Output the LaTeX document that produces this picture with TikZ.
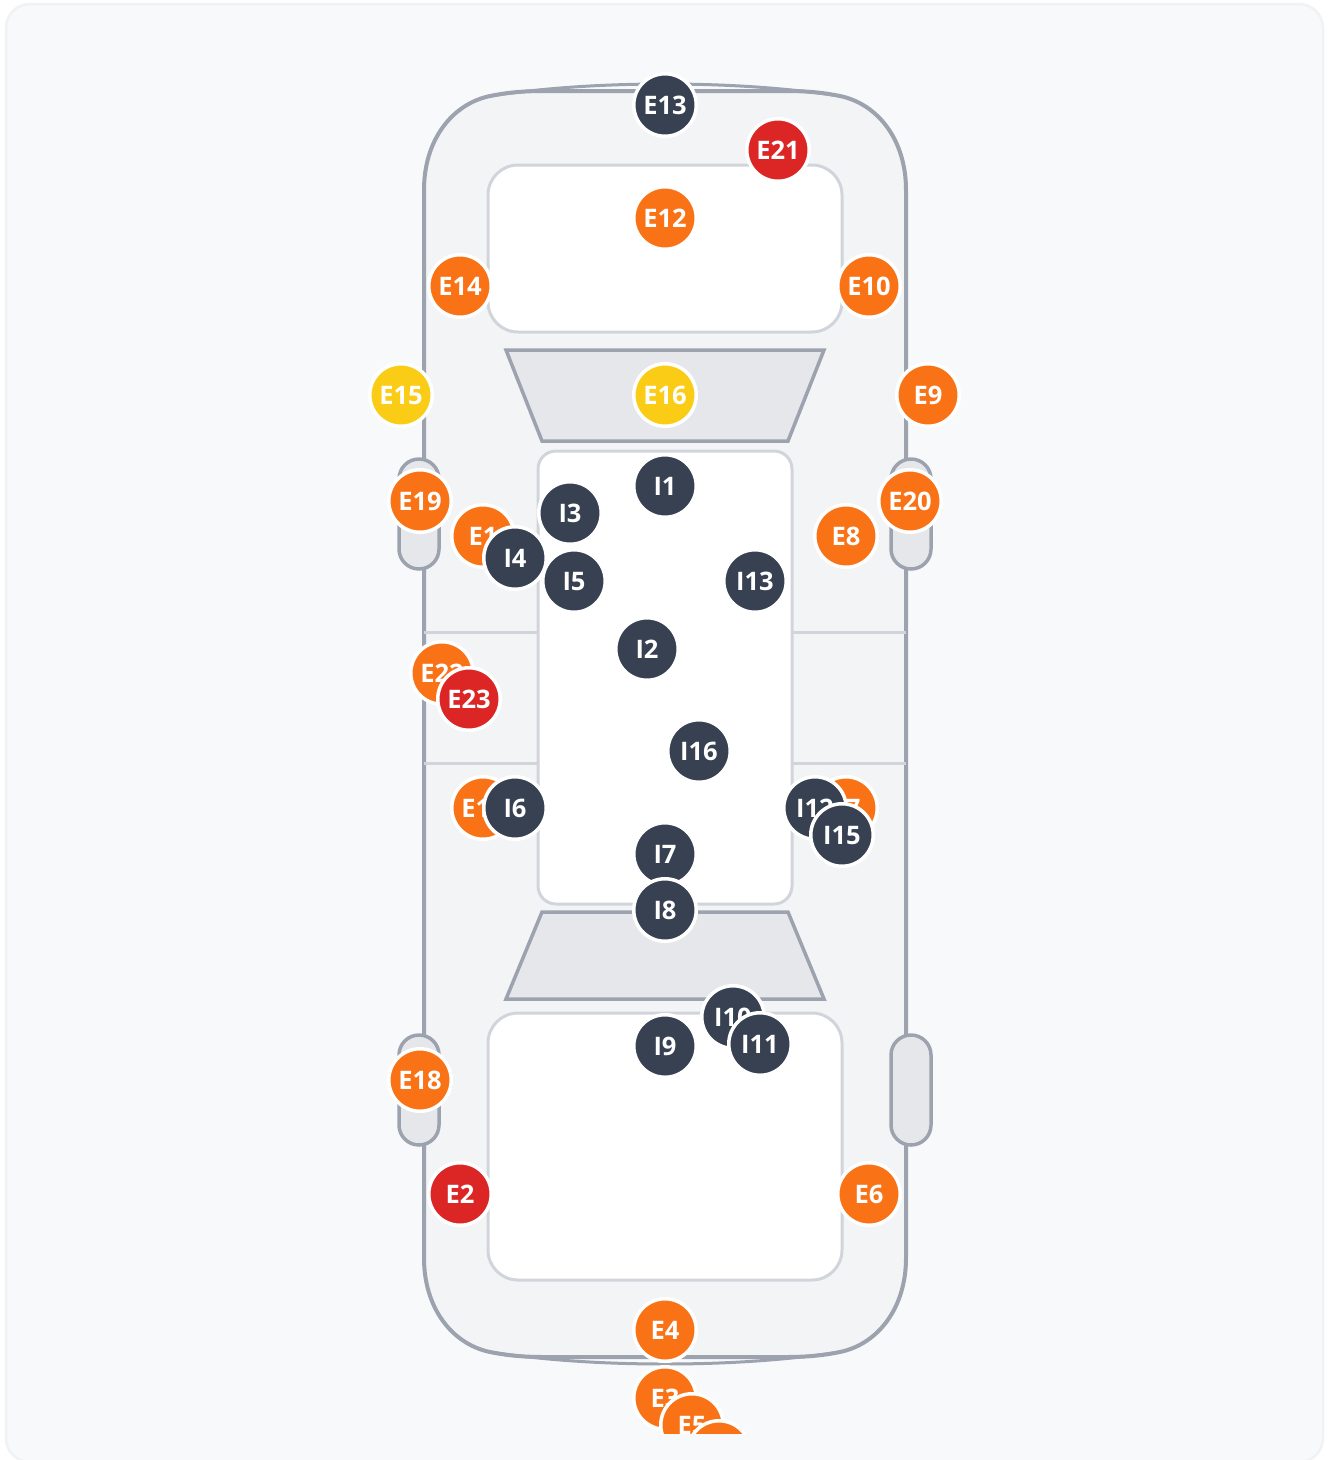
\documentclass[tikz,border=0pt]{standalone}
\usepackage{fontspec}
\setmainfont{Open Sans}
\tikzset{
	orange marker/.style={circle,draw=white,line width=3.5pt,fill=markerorange,text=white,inner sep=0pt,minimum size=62.5pt,text height=18pt,text depth=0pt,font=\fontsize{25.5}{25.5}\selectfont\bfseries},
	red marker/.style={orange marker,fill=markerred},
	yellow marker/.style={orange marker,fill=markeryellow},
	navy marker/.style={orange marker,fill=markernavy},
	body line/.style={draw=bodygray,line width=4pt},
	inner line/.style={draw=innergray,line width=3pt},
	mirror/.style={body line,line width=3.5pt,fill=glassgray,rounded corners=20pt},
	glass/.style={body line,line width=3.5pt,fill=glassgray,line join=miter},
}
\definecolor{markerorange}{HTML}{F97316}
\definecolor{markerred}{HTML}{DC2626}
\definecolor{markeryellow}{HTML}{FACC15}
\definecolor{markernavy}{HTML}{374151}
\definecolor{bodygray}{HTML}{9CA3AF}
\definecolor{innergray}{HTML}{D1D5DB}
\definecolor{glassgray}{HTML}{E5E7EB}
\definecolor{bodyfill}{HTML}{F3F4F6}
\definecolor{cardfill}{HTML}{F8F9FB}
\definecolor{cardline}{HTML}{F1F2F4}
\begin{document}
\begin{tikzpicture}[x=1pt,y=-1pt]
	\useasboundingbox (0,0) rectangle (1329,1460);
	
	\fill[white] (0,0) rectangle (1329,1460);
	\draw[draw=cardline,fill=cardfill,line width=2.5pt,rounded corners=24pt] (6,4) rectangle (1323,1462);
	
	% body
	\draw[body line,fill=bodyfill] (424,190) .. controls (424,140) and (452,104) .. (490,96) .. controls (505,93) and (520,91) .. (545,91) -- (785,91) .. controls (810,91) and (825,93) .. (840,96) .. controls (878,104) and (906,140) .. (906,190) -- (906,1258) .. controls (906,1308) and (878,1344) .. (840,1352) .. controls (825,1355) and (810,1357) .. (785,1357) -- (545,1357) .. controls (520,1357) and (505,1355) .. (490,1352) .. controls (452,1344) and (424,1308) .. (424,1258) -- cycle;
	\draw[body line,line width=3pt] (490,96) .. controls (550,87) and (610,84) .. (665,84) .. controls (720,84) and (780,87) .. (840,96);
	\draw[body line,line width=3pt] (490,1352) .. controls (550,1361) and (610,1364) .. (665,1364) .. controls (720,1364) and (780,1361) .. (840,1352);
	
	% mirrors
	\draw[mirror] (399,459) rectangle (439,569);
	\draw[mirror] (891,459) rectangle (931,569);
	\draw[mirror] (399,1035) rectangle (439,1145);
	\draw[mirror] (891,1035) rectangle (931,1145);
	
	% door lines
	\draw[inner line] (424,632) -- (538,632);
	\draw[inner line] (792,632) -- (906,632);
	\draw[inner line] (424,763) -- (538,763);
	\draw[inner line] (792,763) -- (906,763);
	
	% hood, cabin, trunk
	\draw[inner line,fill=white,rounded corners=30pt] (488,165) rectangle (842,332);
	\draw[inner line,fill=white,rounded corners=18pt] (538,451) rectangle (792,904);
	\draw[inner line,fill=white,rounded corners=30pt] (488,1013) rectangle (842,1280);
	
	% windows
	\draw[glass] (506,350) -- (824,350) -- (788,441) -- (542,441) -- cycle;
	\draw[glass] (542,912) -- (788,912) -- (824,999) -- (506,999) -- cycle;
	
	\begin{scope}
		\clip (0,0) rectangle (1329,1433);
		\node[orange marker] (E1) at (483,536) {E1};
		\node[red marker] (E2) at (460,1194) {E2};
		\node[orange marker] (E3) at (665,1398) {E3};
		\node[orange marker] (E4) at (665,1330) {E4};
		\node[orange marker] (E5) at (692,1425) {E5};
		\node[orange marker] (E6) at (869,1194) {E6};
		\node[orange marker] (E7) at (846,808) {E7};
		\node[orange marker] (E8) at (846,536) {E8};
		\node[orange marker] (E9) at (928,395) {E9};
		\node[orange marker] (E10) at (869,286) {E10};
		\node[orange marker] (E11) at (483,808) {E11};
		\node[orange marker] (E12) at (665,218) {E12};
		\node[navy marker] (E13) at (665,105) {E13};
		\node[orange marker] (E14) at (460,286) {E14};
		\node[yellow marker] (E15) at (401,395) {E15};
		\node[yellow marker] (E16) at (665,395) {E16};
		\node[orange marker] (E18) at (420,1080) {E18};
		\node[orange marker] (E19) at (420,501) {E19};
		\node[orange marker] (E20) at (910,501) {E20};
		\node[red marker] (E21) at (778,150) {E21};
		\node[orange marker] (E22) at (442,673) {E22};
		\node[red marker] (E23) at (469,699) {E23};
		\node[orange marker] (E24) at (719,1452) {};
		\node[navy marker] (I1) at (665,486) {I1};
		\node[navy marker] (I2) at (647,649) {I2};
		\node[navy marker] (I3) at (570,513) {I3};
		\node[navy marker] (I5) at (574,581) {I5};
		\node[navy marker] (I4) at (515,558) {I4};
		\node[navy marker] (I6) at (515,808) {I6};
		\node[navy marker] (I7) at (665,854) {I7};
		\node[navy marker] (I8) at (665,910) {I8};
		\node[navy marker] (I9) at (665,1046) {I9};
		\node[navy marker] (I10) at (733,1017) {I10};
		\node[navy marker] (I11) at (760,1044) {I11};
		\node[navy marker] (I12) at (815,808) {I12};
		\node[navy marker] (I13) at (755,581) {I13};
		\node[navy marker] (I15) at (842,835) {I15};
		\node[navy marker] (I16) at (699,751) {I16};
	\end{scope}
\end{tikzpicture}
\end{document}
